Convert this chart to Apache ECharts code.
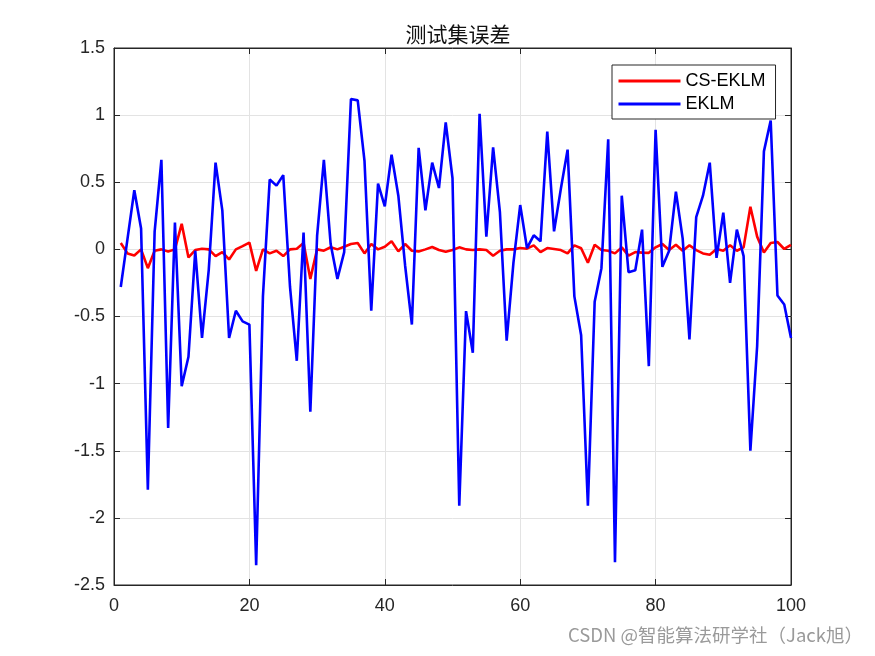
<!DOCTYPE html>
<html>
<head>
<meta charset="utf-8">
<script src="https://cdn.jsdelivr.net/npm/echarts@6/dist/echarts.min.js"></script>
<style>
html,body{margin:0;padding:0;background:#fff;}
#c{width:875px;height:656px;}
</style>
</head>
<body>
<div id="c"></div>
<script>
const titleText = '测试集误差';
const seriesNames = ['CS-EKLM', 'EKLM'];
const xTicks = [0, 20, 40, 60, 80, 100];
const yTicks = [-2.5, -2, -1.5, -1, -0.5, 0, 0.5, 1, 1.5];

const csEklm = [
  0.047, -0.03, -0.045, 0.0, -0.14, -0.01, 0.0, -0.015, 0.0, 0.19,
  -0.06, -0.005, 0.005, 0.0, -0.05, -0.02, -0.075, 0.0, 0.024, 0.05,
  -0.16, 0.0, -0.03, -0.01, -0.05, 0.0, 0.005, 0.047, -0.22, 0.0,
  -0.01, 0.016, 0.0, 0.02, 0.04, 0.047, -0.03, 0.04, 0.0, 0.02,
  0.06, -0.015, 0.04, -0.01, -0.015, 0.0, 0.018, -0.005, -0.018, -0.005,
  0.015, 0.0, -0.005, 0.0, -0.005, -0.047, -0.01, 0.0, 0.0, 0.01,
  0.005, 0.03, -0.02, 0.01, 0.003, -0.005, -0.03, 0.03, 0.008, -0.10,
  0.035, -0.005, -0.01, -0.03, 0.015, -0.047, -0.02, -0.024, -0.026, 0.015,
  0.04, -0.005, 0.035, -0.01, 0.03, -0.005, -0.03, -0.04, 0.003, -0.01,
  0.03, -0.01, 0.015, 0.318, 0.095, -0.024, 0.047, 0.055, 0.003, 0.034
];

const eklm = [
  -0.28, 0.08, 0.44, 0.155, -1.79, 0.13, 0.667, -1.33, 0.2, -1.02,
  -0.80, -0.01, -0.66, -0.15, 0.646, 0.29, -0.66, -0.457, -0.536, -0.56,
  -2.353, -0.35, 0.52, 0.475, 0.553, -0.28, -0.83, 0.126, -1.21, 0.1,
  0.667, 0.04, -0.22, -0.02, 1.12, 1.11, 0.66, -0.457, 0.49, 0.32,
  0.706, 0.40, -0.12, -0.56, 0.756, 0.29, 0.646, 0.457, 0.946, 0.53,
  -1.91, -0.46, -0.77, 1.01, 0.095, 0.76, 0.28, -0.68, -0.1, 0.33,
  0.01, 0.105, 0.06, 0.877, 0.134, 0.45, 0.743, -0.35, -0.64, -1.91,
  -0.39, -0.14, 0.82, -2.33, 0.40, -0.17, -0.155, 0.147, -0.87, 0.89,
  -0.13, -0.01, 0.43, 0.08, -0.67, 0.24, 0.40, 0.646, -0.063, 0.273,
  -0.25, 0.147, -0.05, -1.5, -0.72, 0.73, 0.96, -0.344, -0.41, -0.66
];

const watermark = 'CSDN @智能算法研学社（Jack旭）';

const chart = echarts.init(document.getElementById('c'), null, {renderer: 'canvas'});
const axisColor = '#262626';
const gridColor = '#e3e3e3';
const tickFont = {color: axisColor, fontSize: 18, fontFamily: 'Liberation Sans, Arial, sans-serif'};

function toPairs(arr) { return arr.map((v, i) => [i + 1, v]); }

const option = {
  backgroundColor: '#ffffff',
  animation: false,
  title: {
    text: titleText,
    left: 453,
    top: 19,
    textAlign: 'center',
    textStyle: {fontSize: 21, fontWeight: 'normal', color: '#111', fontFamily: 'Noto Sans CJK SC'}
  },
  grid: {left: 114, right: 84, top: 48, bottom: 71, show: true, borderColor: axisColor, borderWidth: 1, backgroundColor: '#fff'},
  legend: {
    orient: 'vertical',
    left: 612,
    top: 65,
    padding: [6, 10, 5, 5],
    itemGap: 3,
    itemWidth: 62,
    itemHeight: 20,
    itemStyle: {opacity: 0},
    lineStyle: {width: 3},
    borderColor: axisColor,
    borderWidth: 1,
    backgroundColor: '#fff',
    textStyle: {fontSize: 18, lineHeight: 20, color: '#000', fontFamily: 'Liberation Sans, Arial, sans-serif'},
    itemTextGap: 6,
    data: seriesNames
  },
  xAxis: [{
    type: 'value', min: xTicks[0], max: xTicks[xTicks.length - 1], interval: 20,
    axisLine: {show: true, onZero: false, lineStyle: {color: axisColor}},
    axisTick: {show: true, inside: true, length: 6, lineStyle: {color: axisColor}},
    axisLabel: Object.assign({margin: 12}, tickFont),
    splitLine: {show: true, lineStyle: {color: gridColor, width: 1}}
  }, {
    type: 'value', position: 'top', min: xTicks[0], max: xTicks[xTicks.length - 1], interval: 20,
    axisLine: {show: true, onZero: false, lineStyle: {color: axisColor}},
    axisTick: {show: true, inside: true, length: 6, lineStyle: {color: axisColor}},
    axisLabel: {show: false}, splitLine: {show: false}
  }],
  yAxis: [{
    type: 'value', min: yTicks[0], max: yTicks[yTicks.length - 1], interval: 0.5,
    axisLine: {show: true, onZero: false, lineStyle: {color: axisColor}},
    axisTick: {show: true, inside: true, length: 6, lineStyle: {color: axisColor}},
    axisLabel: Object.assign({margin: 9}, tickFont),
    splitLine: {show: true, lineStyle: {color: gridColor, width: 1}}
  }, {
    type: 'value', position: 'right', min: yTicks[0], max: yTicks[yTicks.length - 1], interval: 0.5,
    axisLine: {show: true, onZero: false, lineStyle: {color: axisColor}},
    axisTick: {show: true, inside: true, length: 6, lineStyle: {color: axisColor}},
    axisLabel: {show: false}, splitLine: {show: false}
  }],
  series: [{
    name: seriesNames[0], type: 'line', data: toPairs(csEklm), symbol: 'none',
    lineStyle: {color: '#ff0000', width: 2.6}, itemStyle: {color: '#ff0000'}
  }, {
    name: seriesNames[1], type: 'line', data: toPairs(eklm), symbol: 'none',
    lineStyle: {color: '#0000ff', width: 2.6}, itemStyle: {color: '#0000ff'}
  }],
  graphic: [{
    type: 'text', right: 12, top: 626,
    style: {text: watermark, fontSize: 18.5, fill: '#9a9a9a', fontFamily: 'Noto Sans CJK SC'}
  }]
};
chart.setOption(option);
</script>
</body>
</html>
